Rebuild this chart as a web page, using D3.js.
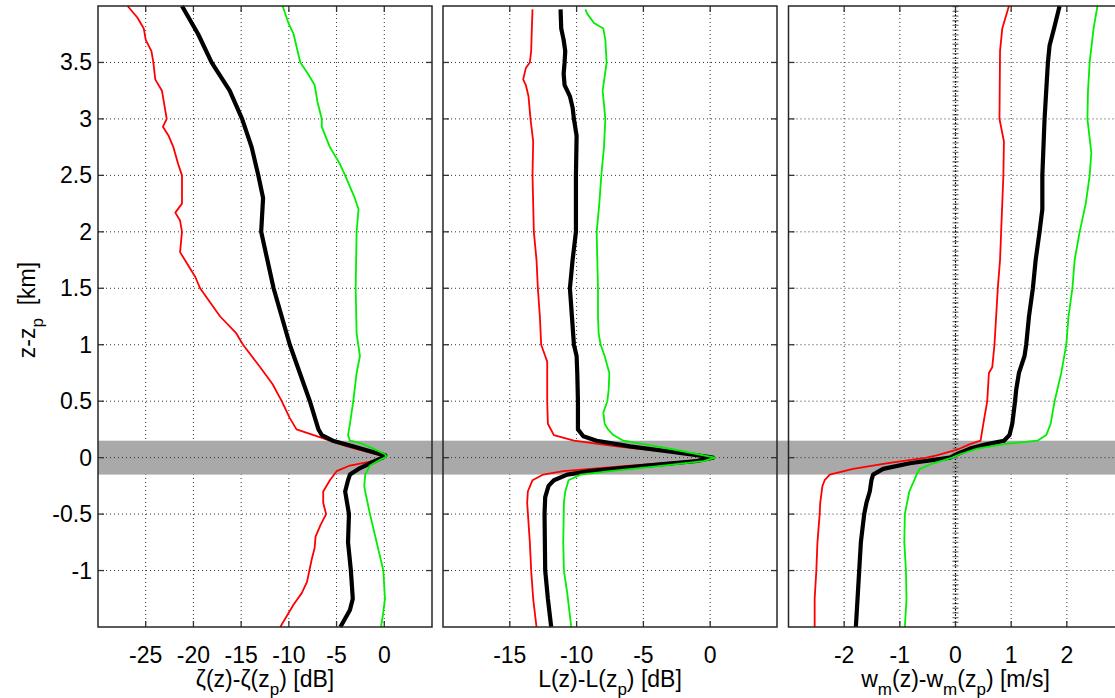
<!DOCTYPE html>
<html>
<head>
<meta charset="utf-8">
<script src="https://cdn.jsdelivr.net/npm/d3@7"></script>
<style>
  body { margin: 0; background: #fff; }
  svg { display: block; font-family: "Liberation Sans", Arial, sans-serif; }
</style>
</head>
<body>
<svg id="chart" width="1115" height="698"></svg>
<script>
"use strict"

// height axis and ticks
const zDomain = [-1.5, 4]
const zTicks = [-1, -0.5, 0, 0.5, 1, 1.5, 2, 2.5, 3, 3.5]
const bandZ = [-0.15, 0.15]

// panel 1: zeta(z)-zeta(zp) [dB]   pairs are [z, value]
const zetaDomain = [-30, 5]
const zetaTicks = [-25, -20, -15, -10, -5, 0]
const zetaRed = [[4,-26.9],[3.9,-25.9],[3.8,-25.2],[3.7,-25.0],[3.6,-24.4],[3.5,-24.2],[3.35,-24.0],[3.25,-23.3],
  [3.1,-23.0],[3.0,-22.8],[2.93,-23.2],[2.85,-22.6],[2.75,-22.1],[2.6,-21.6],[2.5,-21.2],[2.25,-21.2],[2.17,-21.9],
  [2.1,-21.4],[2.0,-21.2],[1.82,-21.4],[1.6,-19.8],[1.5,-19.3],[1.25,-17.2],[1.1,-15.5],[1.0,-14.8],[0.8,-13.0],
  [0.65,-11.7],[0.5,-10.75],[0.35,-9.9],[0.25,-9.2],[0.2,-7.4],[0.15,-5.7],[0.1,-3.9],[0.05,-1.8],[0.02,-0.45],
  [0,0],[-0.03,-1.2],[-0.07,-3.6],[-0.12,-5.0],[-0.2,-5.7],[-0.3,-6.4],[-0.4,-6.4],[-0.5,-6.1],[-0.6,-6.7],
  [-0.7,-7.2],[-0.8,-7.3],[-0.9,-7.6],[-1.0,-7.85],[-1.1,-8.1],[-1.2,-8.65],[-1.3,-9.5],[-1.4,-10.2],[-1.5,-10.9]]
const zetaMean = [[4,-21.2],[3.75,-19.5],[3.5,-18.1],[3.25,-16.2],[3.0,-14.9],[2.75,-13.9],[2.5,-13.2],
  [2.3,-12.7],[2.0,-12.9],[1.5,-11.6],[1.0,-9.9],[0.5,-7.8],[0.25,-6.9],[0.2,-6.55],[0.15,-5.4],[0.1,-3.3],
  [0.05,-1.2],[0.02,0.1],[0,-0.2],[-0.05,-1.5],[-0.1,-2.7],[-0.15,-3.6],[-0.2,-3.8],[-0.3,-4.1],[-0.5,-3.7],
  [-0.75,-3.8],[-1.0,-3.5],[-1.25,-3.3],[-1.35,-3.6],[-1.5,-4.6]]
const zetaGreen = [[4,-10.65],[3.85,-10.05],[3.75,-9.5],[3.5,-8.8],[3.4,-8.0],[3.3,-7.3],[3.15,-7.0],[3.0,-6.55],
  [2.93,-6.55],[2.75,-5.7],[2.6,-4.65],[2.5,-4.1],[2.3,-3.1],[2.2,-2.7],[2.0,-2.9],[1.5,-3.0],[1.1,-2.9],[0.9,-2.55],
  [0.75,-2.9],[0.5,-3.25],[0.3,-3.6],[0.2,-3.8],[0.15,-3.6],[0.13,-2.55],[0.08,-1.15],[0.03,0.07],[0.01,0.25],
  [-0.02,-0.45],[-0.07,-1.5],[-0.15,-2.0],[-0.25,-2.1],[-0.3,-2.0],[-0.5,-1.5],[-0.75,-0.8],[-1.0,-0.1],
  [-1.25,0.07],[-1.4,-0.15],[-1.5,-0.35]]

// panel 2: L(z)-L(zp) [dB]
const lDomain = [-20, 5]
const lTicks = [-15, -10, -5, 0]
const lRed = [[3.97,-13.3],[3.8,-13.35],[3.6,-13.4],[3.5,-13.5],[3.45,-13.8],[3.35,-14.0],[3.3,-13.8],[3.2,-13.6],
  [3.0,-13.45],[2.8,-13.25],[2.5,-13.3],[2.0,-13.2],[1.75,-13.0],[1.5,-12.9],[1.25,-12.75],[1.0,-12.65],[0.9,-12.35],
  [0.85,-12.2],[0.5,-12.2],[0.3,-12.15],[0.2,-11.7],[0.15,-10.2],[0.1,-7.0],[0.05,-3.0],[0.01,-0.3],[0,0],
  [-0.03,-1.5],[-0.07,-6.0],[-0.12,-11.0],[-0.15,-12.5],[-0.2,-13.3],[-0.3,-13.65],[-0.4,-13.7],[-0.75,-13.5],
  [-1.0,-13.4],[-1.25,-13.25],[-1.5,-13.0]]
const lMean = [[3.97,-11.2],[3.8,-11.15],[3.7,-10.97],[3.6,-10.85],[3.5,-10.9],[3.4,-10.97],[3.3,-10.9],[3.25,-10.7],
  [3.2,-10.5],[3.1,-10.3],[3.0,-10.2],[2.85,-10.0],[2.5,-10.05],[2.0,-10.05],[1.75,-10.3],[1.5,-10.5],[1.25,-10.35],
  [1.0,-10.2],[0.9,-10.0],[0.75,-9.95],[0.5,-9.9],[0.25,-9.9],[0.19,-9.5],[0.15,-8.5],[0.1,-6.0],[0.05,-2.8],
  [0.01,-0.3],[0,0.2],[-0.03,-1.0],[-0.07,-4.75],[-0.12,-9.0],[-0.15,-10.7],[-0.2,-11.7],[-0.25,-12.1],
  [-0.35,-12.35],[-0.5,-12.4],[-1.0,-12.35],[-1.25,-12.15],[-1.5,-11.9]]
const lGreen = [[3.97,-9.35],[3.93,-9.2],[3.85,-8.7],[3.8,-8.0],[3.7,-7.85],[3.5,-7.75],[3.25,-8.05],[3.0,-7.85],
  [2.75,-7.95],[2.5,-8.15],[2.25,-8.3],[2.0,-8.5],[1.75,-8.45],[1.5,-8.4],[1.25,-8.4],[1.1,-8.35],[1.0,-8.2],
  [0.9,-7.9],[0.75,-7.55],[0.6,-7.6],[0.5,-7.7],[0.4,-8.0],[0.3,-7.9],[0.25,-7.65],[0.2,-7.25],[0.15,-6.5],
  [0.1,-4.0],[0.05,-1.75],[0,0.35],[-0.03,-0.5],[-0.07,-3.5],[-0.12,-7.5],[-0.15,-9.7],[-0.2,-10.6],[-0.3,-10.85],
  [-0.4,-10.95],[-0.75,-11.0],[-1.0,-10.95],[-1.2,-10.7],[-1.5,-10.4]]

// panel 3: wm(z)-wm(zp) [m/s]
const wDomain = [-3, 3]
const wTicks = [-2, -1, 0, 1, 2]
const wRed = [[4,0.96],[3.8,0.84],[3.6,0.8],[3.0,0.79],[2.8,0.87],[2.5,0.86],[2.0,0.82],[1.75,0.8],[1.5,0.76],
  [1.25,0.73],[1.0,0.7],[0.8,0.66],[0.75,0.6],[0.5,0.57],[0.3,0.5],[0.18,0.46],[0.15,0.45],[0.12,0.26],[0.07,0.03],
  [0.02,-0.34],[0,-0.52],[-0.05,-1.24],[-0.1,-1.84],[-0.15,-2.26],[-0.2,-2.35],[-0.25,-2.39],[-0.4,-2.43],
  [-0.5,-2.44],[-0.75,-2.48],[-1.0,-2.5],[-1.25,-2.53],[-1.5,-2.53]]
const wMean = [[4,1.87],[3.8,1.77],[3.65,1.69],[3.5,1.66],[3.0,1.6],[2.5,1.56],[2.2,1.56],[2.0,1.51],[1.75,1.44],
  [1.5,1.39],[1.25,1.32],[1.0,1.27],[0.9,1.24],[0.75,1.14],[0.6,1.09],[0.5,1.07],[0.3,1.02],[0.2,0.97],[0.15,0.87],
  [0.12,0.57],[0.08,0.26],[0.03,0.02],[0,-0.1],[-0.05,-0.82],[-0.1,-1.3],[-0.15,-1.48],[-0.2,-1.51],[-0.3,-1.54],
  [-0.4,-1.6],[-0.5,-1.64],[-0.75,-1.7],[-1.0,-1.73],[-1.25,-1.76],[-1.5,-1.79]]
const wGreen = [[4,2.55],[3.8,2.48],[3.5,2.41],[3.25,2.38],[3.0,2.37],[2.7,2.44],[2.5,2.41],[2.25,2.34],[2.0,2.23],
  [1.75,2.14],[1.5,2.1],[1.25,2.03],[1.0,1.99],[0.75,1.9],[0.5,1.78],[0.3,1.71],[0.2,1.63],[0.15,1.47],[0.12,0.87],
  [0.08,0.39],[0.03,0.08],[0,-0.06],[-0.05,-0.4],[-0.1,-0.64],[-0.15,-0.7],[-0.2,-0.74],[-0.3,-0.83],[-0.5,-0.91],
  [-0.75,-0.92],[-1.0,-0.89],[-1.25,-0.88],[-1.5,-0.91]]

const svg = d3.select("#chart")
const plotTop = 6, plotBottom = 627
const fontSize = 23, subSize = 17
const y = d3.scaleLinear().domain(zDomain).range([plotBottom, plotTop])

const panels = [
  { left: 98, right: 432, domain: zetaDomain, ticks: zetaTicks, series: [zetaRed, zetaMean, zetaGreen],
    label: [["ζ(z)-ζ(z", 0], ["p", 1], [") [dB]", 0]] },
  { left: 443, right: 777, domain: lDomain, ticks: lTicks, series: [lRed, lMean, lGreen],
    label: [["L(z)-L(z", 0], ["p", 1], [") [dB]", 0]] },
  { left: 788.5, right: 1122.5, domain: wDomain, ticks: wTicks, series: [wRed, wMean, wGreen], zeroLine: true,
    label: [["w", 0], ["m", 1], ["(z)-w", 0], ["m", 1], ["(z", 0], ["p", 1], [") [m/s]", 0]] }
]
const seriesStyle = [
  { color: "#ff0000", width: 1.8 },
  { color: "#000000", width: 4.2 },
  { color: "#00ee00", width: 1.8 }
]
const gridColor = "#333"

// write text with subscripts
function subText(sel, parts) {
  let shifted = false
  parts.forEach(p => {
    const t = sel.append("tspan").text(p[0])
    if (p[1] && !shifted) { t.attr("dy", 8).attr("font-size", subSize); shifted = true }
    else if (p[1]) { t.attr("font-size", subSize) }
    else if (!p[1] && shifted) { t.attr("dy", -8); shifted = false }
  })
}

panels.forEach(p => {
  const x = d3.scaleLinear().domain(p.domain).range([p.left, p.right])
  const g = svg.append("g")

  // grid
  g.selectAll(".vgrid").data(p.ticks).enter().append("line")
    .attr("x1", d => x(d)).attr("x2", d => x(d)).attr("y1", plotTop).attr("y2", plotBottom)
    .attr("stroke", gridColor).attr("stroke-width", 1).attr("stroke-dasharray", "1,3")
  g.selectAll(".hgrid").data(zTicks).enter().append("line")
    .attr("x1", p.left).attr("x2", p.right).attr("y1", d => y(d)).attr("y2", d => y(d))
    .attr("stroke", gridColor).attr("stroke-width", 1).attr("stroke-dasharray", "1,3")

  // tick labels
  g.selectAll(".xt").data(p.ticks).enter().append("text")
    .attr("x", d => x(d)).attr("y", 663).attr("text-anchor", "middle")
    .attr("font-size", fontSize).text(d => d)
  const lab = g.append("text").attr("x", (p.left + p.right) / 2).attr("y", 687)
    .attr("text-anchor", "middle").attr("font-size", fontSize)
  subText(lab, p.label)
  p.x = x
})

// shaded layer around zp
const x1 = panels[0].left
svg.append("rect")
  .attr("x", x1).attr("width", 1115 - x1)
  .attr("y", y(bandZ[1])).attr("height", y(bandZ[0]) - y(bandZ[1]))
  .attr("fill", "#a9a9a9")

panels.forEach(p => {
  const x = p.x, g = svg.append("g")
  g.append("line").attr("x1", p.left).attr("x2", p.right).attr("y1", y(0)).attr("y2", y(0))
    .attr("stroke", gridColor).attr("stroke-dasharray", "1,3")
  if (p.zeroLine) {
    g.append("line").attr("x1", x(0)).attr("x2", x(0)).attr("y1", plotTop).attr("y2", plotBottom)
      .attr("stroke", "#777").attr("stroke-width", 6).attr("stroke-dasharray", "1.3,3.4")
    g.append("line").attr("x1", x(0)).attr("x2", x(0)).attr("y1", plotTop).attr("y2", plotBottom)
      .attr("stroke", "#000").attr("stroke-width", 1.2).attr("stroke-dasharray", "1,2")
  }

  const line = d3.line().x(d => x(d[1])).y(d => y(d[0]))
  p.series.forEach((s, i) => {
    g.append("path").datum(s).attr("d", line)
      .attr("fill", "none").attr("stroke", seriesStyle[i].color)
      .attr("stroke-width", seriesStyle[i].width).attr("stroke-linejoin", "round")
  })

  // ticks on the frame
  zTicks.forEach(t => {
    g.append("line").attr("x1", p.left).attr("x2", p.left + 6).attr("y1", y(t)).attr("y2", y(t))
      .attr("stroke", "#333").attr("stroke-width", 1.3)
    g.append("line").attr("x1", p.right - 6).attr("x2", p.right).attr("y1", y(t)).attr("y2", y(t))
      .attr("stroke", "#333").attr("stroke-width", 1.3)
  })
  p.ticks.forEach(t => {
    g.append("line").attr("x1", x(t)).attr("x2", x(t)).attr("y1", plotBottom).attr("y2", plotBottom - 6)
      .attr("stroke", "#333").attr("stroke-width", 1.3)
    g.append("line").attr("x1", x(t)).attr("x2", x(t)).attr("y1", plotTop).attr("y2", plotTop + 6)
      .attr("stroke", "#333").attr("stroke-width", 1.3)
  })

  g.append("rect").attr("x", p.left).attr("y", plotTop)
    .attr("width", p.right - p.left).attr("height", plotBottom - plotTop)
    .attr("fill", "none").attr("stroke", "#262626").attr("stroke-width", 1.5)
})

// y axis labels
svg.selectAll(".yt").data(zTicks).enter().append("text")
  .attr("x", 92).attr("y", d => y(d) + 8).attr("text-anchor", "end")
  .attr("font-size", fontSize).text(d => d)

const ylab = svg.append("text")
  .attr("transform", "translate(35,310) rotate(-90)")
  .attr("text-anchor", "middle").attr("font-size", fontSize)
subText(ylab, [["z-z", 0], ["p", 1], ["\u00a0 [km]", 0]])
</script>
</body>
</html>
